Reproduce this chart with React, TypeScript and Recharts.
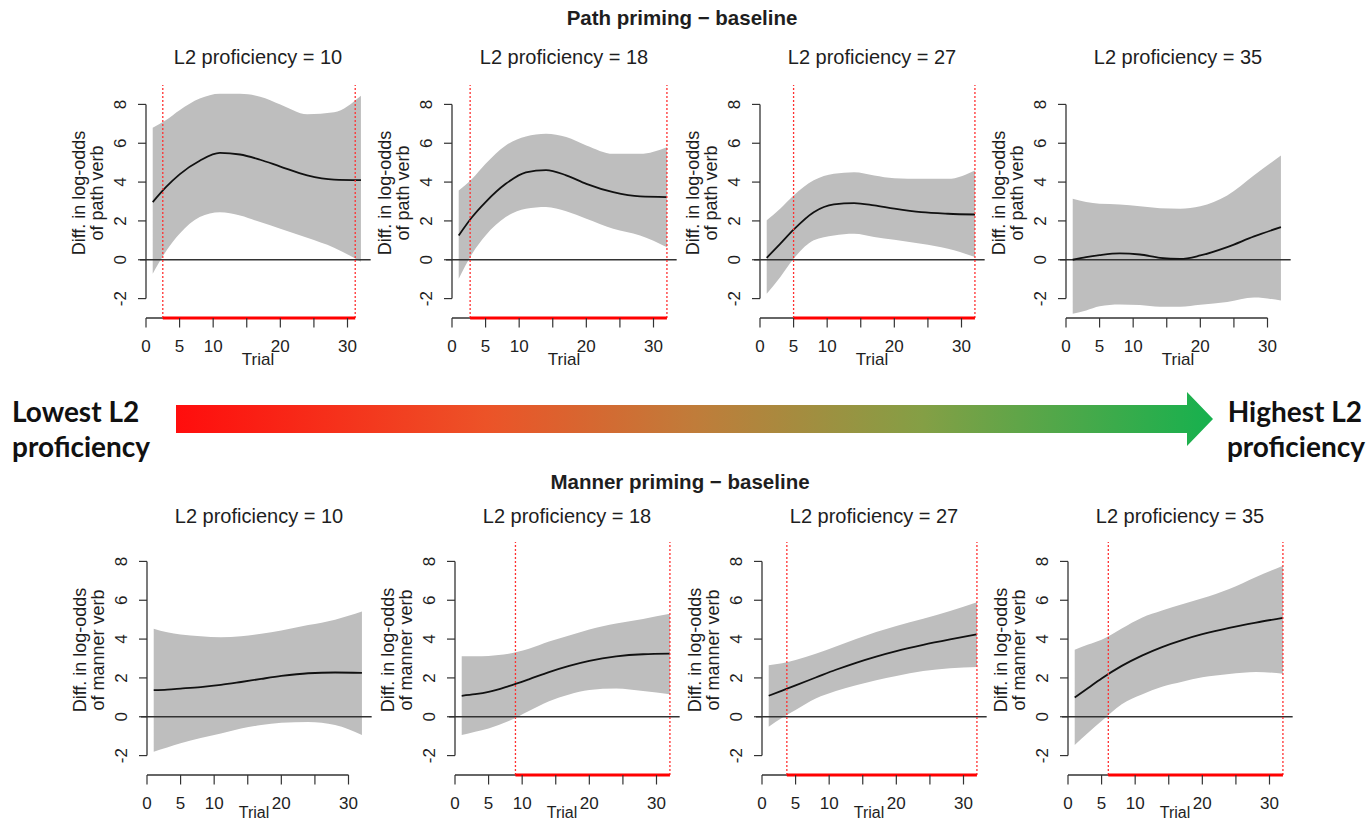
import { Area, ComposedChart, Line, ReferenceLine, XAxis, YAxis } from 'recharts';

// trial grid shared by every panel
const trials = [1, 3, 5, 8, 11, 14, 17, 20, 24, 28, 32];
const proficiency = [10, 18, 27, 35];
const xTicks = [0, 5, 10, 15, 20, 25, 30];
const xTickLabels = [0, 5, 10, 20, 30];
const yTicks = [-2, 0, 2, 4, 6, 8];

// path priming - baseline
const path10Fit = [2.97, 3.75, 4.4, 5.1, 5.5, 5.42, 5.15, 4.8, 4.35, 4.13, 4.1];
const path10Lower = [-0.72, 0.45, 1.34, 2.2, 2.45, 2.28, 1.94, 1.6, 1.13, 0.62, -0.1];
const path10Upper = [6.8, 7.2, 7.7, 8.3, 8.55, 8.55, 8.4, 8.0, 7.5, 7.6, 8.45];

const path18Fit = [1.25, 2.2, 2.97, 3.91, 4.5, 4.62, 4.35, 3.91, 3.48, 3.26, 3.23];
const path18Lower = [-0.98, 0.31, 1.25, 2.2, 2.63, 2.72, 2.5, 2.11, 1.6, 1.25, 0.65];
const path18Upper = [3.57, 4.17, 4.94, 5.89, 6.35, 6.49, 6.32, 5.89, 5.46, 5.46, 5.8];

const path27Fit = [0.1, 0.82, 1.55, 2.45, 2.85, 2.92, 2.8, 2.63, 2.45, 2.37, 2.33];
const path27Lower = [-1.75, -0.9, 0.05, 1.0, 1.25, 1.34, 1.17, 1.03, 0.82, 0.57, 0.14];
const path27Upper = [2.03, 2.63, 3.31, 4.09, 4.43, 4.51, 4.34, 4.2, 4.17, 4.17, 4.6];

const path35Fit = [0.0, 0.14, 0.24, 0.33, 0.27, 0.1, 0.04, 0.22, 0.65, 1.2, 1.68];
const path35Lower = [-2.78, -2.61, -2.4, -2.3, -2.33, -2.42, -2.42, -2.32, -2.18, -1.95, -2.1];
const path35Upper = [3.14, 2.97, 2.88, 2.85, 2.75, 2.65, 2.63, 2.75, 3.31, 4.35, 5.37];

// manner priming - baseline
const manner10Fit = [1.37, 1.4, 1.45, 1.53, 1.64, 1.79, 1.95, 2.1, 2.24, 2.28, 2.26];
const manner10Lower = [-1.8, -1.58, -1.37, -1.1, -0.86, -0.6, -0.43, -0.31, -0.27, -0.43, -0.94];
const manner10Upper = [4.53, 4.35, 4.24, 4.15, 4.1, 4.15, 4.28, 4.44, 4.72, 5.0, 5.42];

const manner18Fit = [1.08, 1.16, 1.28, 1.58, 1.93, 2.3, 2.62, 2.88, 3.11, 3.22, 3.25];
const manner18Lower = [-0.94, -0.77, -0.6, -0.22, 0.3, 0.8, 1.15, 1.38, 1.45, 1.32, 1.16];
const manner18Upper = [3.11, 3.11, 3.13, 3.24, 3.5, 3.87, 4.19, 4.5, 4.8, 5.04, 5.3];

const manner27Fit = [1.08, 1.35, 1.62, 2.02, 2.42, 2.78, 3.1, 3.38, 3.7, 3.98, 4.24];
const manner27Lower = [-0.51, -0.05, 0.35, 0.94, 1.33, 1.62, 1.88, 2.1, 2.35, 2.5, 2.56];
const manner27Upper = [2.65, 2.75, 2.92, 3.25, 3.62, 4.0, 4.36, 4.68, 5.05, 5.45, 5.9];

const manner35Fit = [0.99, 1.48, 1.97, 2.62, 3.15, 3.59, 3.95, 4.25, 4.58, 4.85, 5.09];
const manner35Lower = [-1.45, -0.82, -0.22, 0.65, 1.15, 1.54, 1.8, 2.03, 2.2, 2.3, 2.22];
const manner35Upper = [3.45, 3.72, 3.97, 4.55, 5.1, 5.47, 5.8, 6.1, 6.58, 7.2, 7.78];

// trial ranges where the difference is significant (red marks)
const pathSignificant = [[2.5, 31.15], [2.7, 32], [5, 32], null];
const mannerSignificant = [null, [9, 32], [3.7, 32], [6, 32]];

const FONT = '"Liberation Sans", Arial, Helvetica, sans-serif';
const AXIS = '#333333';
const TEXT = '#1e1e1e';
const RED = '#ff3030';

const PLOT_W = 224;
const PLOT_H = 233;
const Y_AXIS_W = 90;
const X_AXIS_H = 55;
const RIGHT_PAD = 13;
const X_TICK = 9.5;
const Y_TICK = 8;

const topX0 = [146, 452, 760, 1066];
const bottomX0 = [147, 455, 762, 1068];
const TOP_PLOT_Y = 84.5;
const BOTTOM_PLOT_Y = 542;

const buildRows = (fit: number[], lower: number[], upper: number[]) =>
  trials.map((trial, i) => ({ trial, fit: fit[i], band: [lower[i], upper[i]] }));

const pathRows = [
  buildRows(path10Fit, path10Lower, path10Upper),
  buildRows(path18Fit, path18Lower, path18Upper),
  buildRows(path27Fit, path27Lower, path27Upper),
  buildRows(path35Fit, path35Lower, path35Upper),
];
const mannerRows = [
  buildRows(manner10Fit, manner10Lower, manner10Upper),
  buildRows(manner18Fit, manner18Lower, manner18Upper),
  buildRows(manner27Fit, manner27Lower, manner27Upper),
  buildRows(manner35Fit, manner35Lower, manner35Upper),
];

const XTick = (props: any) => {
  const { x, y, payload } = props;
  if (!xTickLabels.includes(payload.value)) return <g />;
  return (
    <text x={x} y={y - X_TICK + 34} textAnchor='middle' fontSize={17} fill={TEXT} fontFamily={FONT}>
      {payload.value}
    </text>
  );
};

const YTick = (props: any) => {
  const { x, y, payload } = props;
  return (
    <text
      transform={`translate(${x - 12},${y}) rotate(-90)`}
      textAnchor='middle'
      fontSize={17}
      fill={TEXT}
      fontFamily={FONT}
    >
      {payload.value}
    </text>
  );
};

// the bottom row sits at the page edge, so its "Trial" is pulled up and nudged left of the "20"
const trialLabel = (offset: number, dx: number, size: number) => () => (
  <text
    x={Y_AXIS_W + PLOT_W / 2 + dx}
    y={PLOT_H + offset}
    textAnchor='middle'
    fontSize={size}
    fill={TEXT}
    fontFamily={FONT}
  >
    Trial
  </text>
);

const yLabel = (verb: string) => () => (
  <g fontSize={18} fill={TEXT} fontFamily={FONT} textAnchor='middle'>
    <text transform={`translate(${Y_AXIS_W - 61},108) rotate(-90)`}>Diff. in log-odds</text>
    <text transform={`translate(${Y_AXIS_W - 43},108) rotate(-90)`}>{`of ${verb} verb`}</text>
  </g>
);

interface PanelProps {
  rows: { trial: number; fit: number; band: number[] }[];
  sig: number[] | null;
  x0: number;
  plotTop: number;
  verb: string;
  bottomRow: boolean;
}

const Panel = ({ rows, sig, x0, plotTop, verb, bottomRow }: PanelProps) => (
  <div style={{ position: 'absolute', left: x0 - Y_AXIS_W, top: plotTop }}>
    <ComposedChart
      width={Y_AXIS_W + PLOT_W + RIGHT_PAD}
      height={PLOT_H + X_AXIS_H}
      data={rows}
      margin={{ top: 0, right: RIGHT_PAD, bottom: 0, left: 0 }}
    >
      <XAxis
        dataKey='trial'
        type='number'
        domain={[0, 33.35]}
        ticks={xTicks}
        interval={0}
        allowDataOverflow
        axisLine={false}
        stroke={AXIS}
        tickLine={{ stroke: AXIS, strokeWidth: 1.2 }}
        tickSize={X_TICK}
        tickMargin={0}
        tick={XTick}
        height={X_AXIS_H}
        label={{ content: bottomRow ? trialLabel(43, -5, 16) : trialLabel(47, 0, 17) }}
      />
      <YAxis
        type='number'
        domain={[-3, 9]}
        ticks={yTicks}
        interval={0}
        allowDataOverflow
        axisLine={false}
        stroke={AXIS}
        tickLine={{ stroke: AXIS, strokeWidth: 1.2 }}
        tickSize={Y_TICK}
        tickMargin={0}
        tick={YTick}
        width={Y_AXIS_W}
        label={{ content: yLabel(verb) }}
      />
      <Area
        type='monotone'
        dataKey='band'
        fill='#bebebe'
        fillOpacity={1}
        stroke='none'
        isAnimationActive={false}
      />
      <ReferenceLine
        segment={[{ x: -0.9, y: 0 }, { x: 33.45, y: 0 }]}
        stroke={AXIS}
        strokeWidth={1.3}
        ifOverflow='visible'
      />
      <Line
        type='monotone'
        dataKey='fit'
        stroke='#111111'
        strokeWidth={1.8}
        dot={false}
        activeDot={false}
        isAnimationActive={false}
      />
      <ReferenceLine segment={[{ x: 0, y: -3 }, { x: 30, y: -3 }]} stroke={AXIS} strokeWidth={1.3} ifOverflow='visible' />
      <ReferenceLine segment={[{ x: 0, y: -2 }, { x: 0, y: 8 }]} stroke={AXIS} strokeWidth={1.3} ifOverflow='visible' />
      {sig && (
        <ReferenceLine x={sig[0]} stroke={RED} strokeWidth={1.3} strokeDasharray='2 2' ifOverflow='visible' />
      )}
      {sig && (
        <ReferenceLine x={sig[1]} stroke={RED} strokeWidth={1.3} strokeDasharray='2 2' ifOverflow='visible' />
      )}
      {sig && (
        <ReferenceLine
          segment={[{ x: sig[0], y: -3 }, { x: sig[1], y: -3 }]}
          stroke='#ff0000'
          strokeWidth={3}
          ifOverflow='visible'
        />
      )}
    </ComposedChart>
  </div>
);

const Decorations = () => (
  <svg width={1370} height={824} style={{ position: 'absolute', left: 0, top: 0 }}>
    <defs>
      <linearGradient id='proficiencyGradient' x1='0' y1='0' x2='1' y2='0'>
        <stop offset='0%' stopColor='#ff0d0d' />
        <stop offset='30%' stopColor='#ec5328' />
        <stop offset='50%' stopColor='#c07c3a' />
        <stop offset='72%' stopColor='#849f45' />
        <stop offset='100%' stopColor='#16b14e' />
      </linearGradient>
    </defs>
    <text x={682} y={25} textAnchor='middle' fontSize={20.5} fontWeight='bold' fill={TEXT} fontFamily={FONT}>
      Path priming − baseline
    </text>
    <text x={680} y={489} textAnchor='middle' fontSize={20.5} fontWeight='bold' fill={TEXT} fontFamily={FONT}>
      Manner priming − baseline
    </text>
    {topX0.map((x0, i) => (
      <text key={`t${i}`} x={x0 + PLOT_W / 2} y={64} textAnchor='middle' fontSize={20} fill={TEXT} fontFamily={FONT}>
        {`L2 proficiency = ${proficiency[i]}`}
      </text>
    ))}
    {bottomX0.map((x0, i) => (
      <text key={`b${i}`} x={x0 + PLOT_W / 2} y={523} textAnchor='middle' fontSize={20} fill={TEXT} fontFamily={FONT}>
        {`L2 proficiency = ${proficiency[i]}`}
      </text>
    ))}
    <path d='M176,405 L1187,405 L1187,392 L1213,419 L1187,446 L1187,433 L176,433 Z' fill='url(#proficiencyGradient)' />
    <g fontFamily='Lato, "Open Sans", sans-serif' fontWeight='bold' fontSize={28} fill='#111'>
      <text x={12} y={422}>Lowest L2</text>
      <text x={12} y={457}>proficiency</text>
      <text x={1362} y={422} textAnchor='end'>Highest L2</text>
      <text x={1365} y={457} textAnchor='end'>proficiency</text>
    </g>
  </svg>
);

export default function App() {
  return (
    <div
      style={{
        position: 'absolute',
        left: 0,
        top: 0,
        width: 1370,
        height: 824,
        overflow: 'hidden',
        background: '#ffffff',
        fontFamily: FONT,
      }}
    >
      <Decorations />
      {topX0.map((x0, i) => (
        <Panel
          key={`path${i}`}
          rows={pathRows[i]}
          sig={pathSignificant[i]}
          x0={x0}
          plotTop={TOP_PLOT_Y}
          verb='path'
          bottomRow={false}
        />
      ))}
      {bottomX0.map((x0, i) => (
        <Panel
          key={`manner${i}`}
          rows={mannerRows[i]}
          sig={mannerSignificant[i]}
          x0={x0}
          plotTop={BOTTOM_PLOT_Y}
          verb='manner'
          bottomRow
        />
      ))}
    </div>
  );
}
